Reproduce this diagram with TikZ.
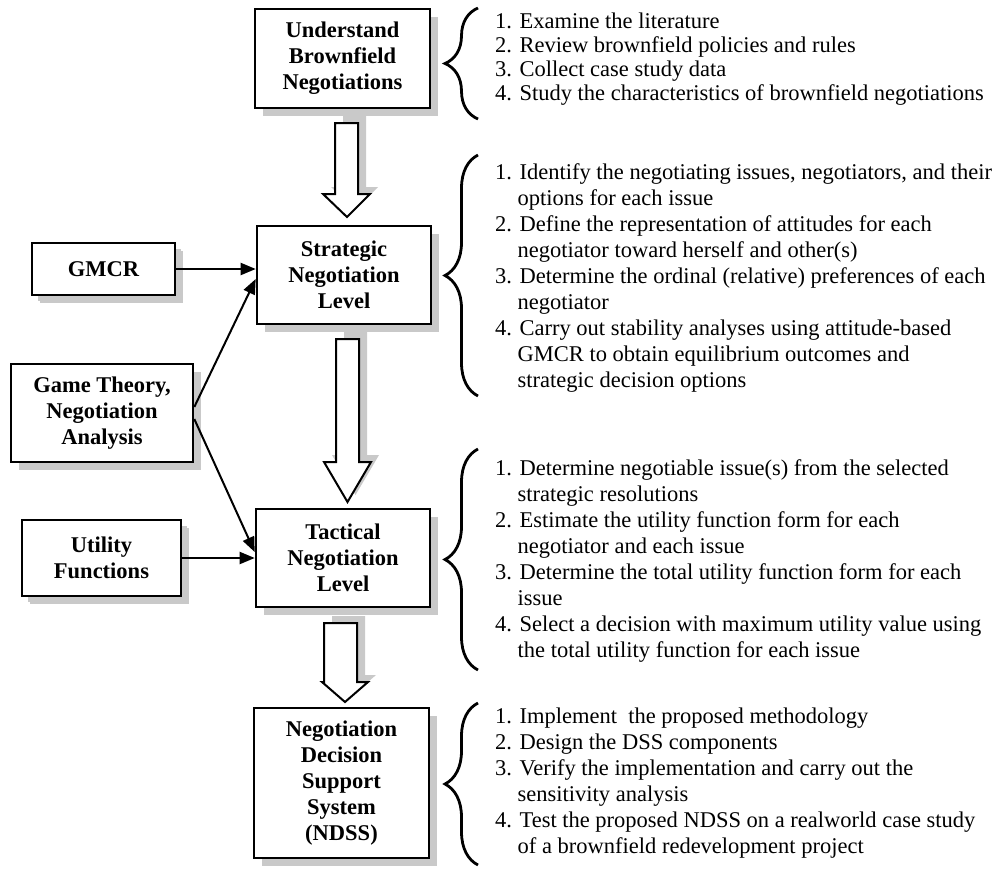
\documentclass[tikz,border=0pt]{standalone}
\usepackage{fontspec}
\setmainfont{Liberation Serif}
\usetikzlibrary{shadows,arrows.meta,decorations.pathreplacing,calc}

% indentation for wrapped lines of a numbered item
\newcommand\listcont{\hphantom{1.\ }}

% hollow downward block arrow with its shadow:
% #1 shaft left, #2 shaft right, #3 top, #4 neck, #5 head left, #6 head right, #7 tip x, #8 tip y
\newcommand\downblock[8]{%
  \fill[arrowshade, shift={(8,-7)}] (#1,#3) -- (#2,#3) -- (#2,#4) -- (#6,#4) -- (#7,#8) -- (#5,#4) -- (#1,#4) -- cycle;
  \draw[hollowarrow] (#1,#3) -- (#2,#3) -- (#2,#4) -- (#6,#4) -- (#7,#8) -- (#5,#4) -- (#1,#4) -- cycle;
}

\begin{document}
\begin{tikzpicture}[x=1pt, y=-1pt,
  box/.style={draw, line width=2.6pt, fill=white, align=center, inner sep=0pt,
    font=\fontsize{22.5pt}{26pt}\selectfont\bfseries,
    drop shadow={shadow xshift=8pt, shadow yshift=-8pt, fill=gray!42, opacity=1}},
  smallshadow/.style={drop shadow={shadow xshift=6pt, shadow yshift=-6pt, fill=gray!42, opacity=1}},
  hollowarrow/.style={draw, line width=2pt, fill=white, line join=miter},
  arrowshade/.style={fill=gray!42},
  conn/.style={line width=2pt, -{Triangle[length=15pt,width=12pt]}},
  curly/.style={line width=2.8pt, decorate, decoration={brace, amplitude=33pt}},
  steps/.style={anchor=north west, inner sep=0pt, align=left},
]
\useasboundingbox (0,0) rectangle (1001,868);

% block arrows between the levels
\downblock{335}{358}{123}{194}{323}{370}{347}{217}
\downblock{336}{359}{339}{462}{324}{371}{347.5}{502}
\downblock{324}{357}{623}{682}{322}{368}{345}{702}

% main column
\node[box, minimum width=175pt, minimum height=99pt] (understand) at (342.5,58.5) {Understand\\Brownfield\\Negotiations};
\node[box, minimum width=174pt, minimum height=98pt] (strategic) at (344,275) {Strategic\\Negotiation\\Level};
\node[box, minimum width=174pt, minimum height=98pt] (tactical) at (343,558) {Tactical\\Negotiation\\Level};
\node[box, minimum width=175pt, minimum height=150pt] (ndss) at (341.5,783) {Negotiation\\Decision\\Support\\System\\(NDSS)};

% inputs
\node[box, smallshadow, minimum width=143pt, minimum height=52pt] (gmcr) at (103.5,269) {GMCR};
\node[box, minimum width=182pt, minimum height=98pt] (game) at (102,413) {Game Theory,\\Negotiation\\Analysis};
\node[box, smallshadow, minimum width=159pt, minimum height=76pt] (utility) at (101.5,558) {Utility\\Functions};

% connectors
\draw[conn] (gmcr.east) -- (gmcr.east -| strategic.west);
\draw[conn] ([yshift=6pt]game.east) -- ([yshift=-4pt]strategic.west);
\draw[conn] ([yshift=-6pt]game.east) -- ([yshift=6pt]tactical.west);
\draw[conn] (utility.east) -- (utility.east -| tactical.west);

% braces
\coordinate (b1t) at (478,8);   \coordinate (b1b) at (478,119);
\coordinate (b2t) at (478,155); \coordinate (b2b) at (478,396);
\coordinate (b3t) at (478,449); \coordinate (b3b) at (478,670);
\coordinate (b4t) at (478,703); \coordinate (b4b) at (478,865);
\draw[curly] (b1b) -- (b1t);
\draw[curly] (b2b) -- (b2t);
\draw[curly] (b3b) -- (b3t);
\draw[curly] (b4b) -- (b4t);

% step lists
\node[steps, font=\fontsize{22.5pt}{24pt}\selectfont] (list1) at (495,13) {%
1. Examine the literature\\
2. Review brownfield policies and rules\\
3. Collect case study data\\
4. Study the characteristics of brownfield negotiations};

\node[steps, font=\fontsize{22.5pt}{26pt}\selectfont] (list2) at (495,163) {%
1. Identify the negotiating issues, negotiators, and their\\
\listcont options for each issue\\
2. Define the representation of attitudes for each\\
\listcont negotiator toward herself and other(s)\\
3. Determine the ordinal (relative) preferences of each\\
\listcont negotiator\\
4. Carry out stability analyses using attitude-based\\
\listcont GMCR to obtain equilibrium outcomes and\\
\listcont strategic decision options};

\node[steps, font=\fontsize{22.5pt}{26pt}\selectfont] (list3) at (495,459) {%
1. Determine negotiable issue(s) from the selected\\
\listcont strategic resolutions\\
2. Estimate the utility function form for each\\
\listcont negotiator and each issue\\
3. Determine the total utility function form for each\\
\listcont issue\\
4. Select a decision with maximum utility value using\\
\listcont the total utility function for each issue};

\node[steps, font=\fontsize{22.5pt}{26pt}\selectfont] (list4) at (495,708) {%
1. Implement\ \ the proposed methodology\\
2. Design the DSS components\\
3. Verify the implementation and carry out the\\
\listcont sensitivity analysis\\
4. Test the proposed NDSS on a realworld case study\\
\listcont of a brownfield redevelopment project};
\end{tikzpicture}
\end{document}
